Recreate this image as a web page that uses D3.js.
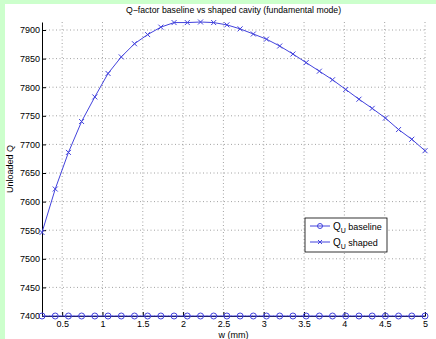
<!DOCTYPE html>
<html>
<head>
<meta charset="utf-8">
<script src="https://cdn.jsdelivr.net/npm/d3@7"></script>
<style>
  body { margin: 0; background: #ccffcc; }
  svg { display: block; font-family: "Liberation Sans", Arial, sans-serif; }
</style>
</head>
<body>
<div id="chart"></div>
<script>
// w (mm) sample points, 30 points from 0.25 to 5
const wValues = [0.25, 0.414, 0.578, 0.741, 0.905, 1.069, 1.233, 1.397, 1.560, 1.724,
                 1.888, 2.052, 2.216, 2.379, 2.543, 2.707, 2.871, 3.034, 3.198, 3.362,
                 3.526, 3.690, 3.853, 4.017, 4.181, 4.345, 4.509, 4.672, 4.836, 5.0];
const qBaseline = [7400, 7400, 7400, 7400, 7400, 7400, 7400, 7400, 7400, 7400,
                   7400, 7400, 7400, 7400, 7400, 7400, 7400, 7400, 7400, 7400,
                   7400, 7400, 7400, 7400, 7400, 7400, 7400, 7400, 7400, 7400];
const qShaped = [7546, 7622, 7686, 7740, 7783, 7824, 7853, 7876, 7892, 7905,
                 7913, 7913, 7914, 7913, 7909, 7902, 7893, 7884, 7872, 7858,
                 7843, 7828, 7813, 7796, 7779, 7763, 7746, 7726, 7709, 7689];
const xTicks = [0.5, 1, 1.5, 2, 2.5, 3, 3.5, 4, 4.5, 5];
const yTicks = [7400, 7450, 7500, 7550, 7600, 7650, 7700, 7750, 7800, 7850, 7900];

const width = 436, height = 339;
const plotLeft = 42, plotRight = 425, plotTop = 22, plotBottom = 316;
const lineColor = "#4343dd";

const svg = d3.select("#chart").append("svg")
    .attr("width", width)
    .attr("height", height);

// white panel over the green page
svg.append("rect")
    .attr("x", 5).attr("y", 4)
    .attr("width", width - 5).attr("height", height - 4)
    .attr("fill", "#fff");

const x = d3.scaleLinear().domain([0.25, 5]).range([plotLeft, plotRight]);
const y = d3.scaleLinear().domain([7400, 7914]).range([plotBottom, plotTop]);

// dotted grid
const grid = svg.append("g")
    .attr("stroke", "#8a8a8a")
    .attr("stroke-width", 0.8)
    .attr("stroke-dasharray", "1,2.5");
grid.selectAll(".gx").data(xTicks).enter().append("line")
    .attr("x1", d => x(d)).attr("x2", d => x(d))
    .attr("y1", plotTop).attr("y2", plotBottom);
grid.selectAll(".gy").data(yTicks).enter().append("line")
    .attr("x1", plotLeft).attr("x2", plotRight)
    .attr("y1", d => y(d)).attr("y2", d => y(d));

// axes, ticks inward
const xAxis = svg.append("g")
    .attr("transform", `translate(0,${plotBottom})`)
    .call(d3.axisBottom(x).tickValues(xTicks).tickSizeInner(-4).tickSizeOuter(0).tickPadding(5).tickFormat(d3.format("")));
const yAxis = svg.append("g")
    .attr("transform", `translate(${plotLeft},0)`)
    .call(d3.axisLeft(y).tickValues(yTicks).tickSizeInner(-4).tickSizeOuter(0).tickPadding(2).tickFormat(d3.format("d")));
[xAxis, yAxis].forEach(a => {
    a.select(".domain").attr("stroke", "#000");
    a.selectAll(".tick line").attr("stroke", "#000");
    a.selectAll("text").attr("font-size", 9).attr("fill", "#000")
        .attr("font-family", "Liberation Sans, Arial, sans-serif");
});

// series
const seriesLine = d3.line().x((d, i) => x(wValues[i])).y(d => y(d));
svg.append("path").datum(qBaseline)
    .attr("d", seriesLine).attr("fill", "none")
    .attr("stroke", lineColor).attr("stroke-width", 1);
svg.append("path").datum(qShaped)
    .attr("d", seriesLine).attr("fill", "none")
    .attr("stroke", lineColor).attr("stroke-width", 1);

svg.selectAll(".mo").data(qBaseline).enter().append("circle")
    .attr("cx", (d, i) => x(wValues[i])).attr("cy", d => y(d))
    .attr("r", 3).attr("fill", "none")
    .attr("stroke", lineColor).attr("stroke-width", 1);

function cross(g, cx, cy, s) {
    g.append("path")
        .attr("d", `M${cx - s},${cy - s}L${cx + s},${cy + s}M${cx - s},${cy + s}L${cx + s},${cy - s}`)
        .attr("stroke", lineColor).attr("stroke-width", 1).attr("fill", "none");
}
const marks = svg.append("g");
qShaped.forEach((d, i) => cross(marks, x(wValues[i]), y(d), 2.5));

// title and labels
svg.append("text")
    .attr("x", (plotLeft + plotRight) / 2).attr("y", 13)
    .attr("text-anchor", "middle").attr("font-size", 8.7)
    .text("Q\u2212factor baseline vs shaped cavity (fundamental mode)");
svg.append("text")
    .attr("x", (plotLeft + plotRight) / 2).attr("y", 337.5)
    .attr("text-anchor", "middle").attr("font-size", 9)
    .text("w (mm)");
svg.append("text")
    .attr("transform", `translate(13,${(plotTop + plotBottom) / 2}) rotate(-90)`)
    .attr("text-anchor", "middle").attr("font-size", 9)
    .text("Unloaded Q");

// legend
const legend = svg.append("g").attr("transform", "translate(305,218)");
legend.append("rect")
    .attr("width", 82).attr("height", 34)
    .attr("fill", "#fff").attr("stroke", "#000").attr("stroke-width", 0.8);
const entries = [{ name: "baseline", mark: "o" }, { name: "shaped", mark: "x" }];
entries.forEach((e, i) => {
    const ly = 8 + i * 16;
    legend.append("line")
        .attr("x1", 5).attr("x2", 25).attr("y1", ly).attr("y2", ly)
        .attr("stroke", lineColor).attr("stroke-width", 1);
    if (e.mark === "o") {
        legend.append("circle").attr("cx", 15).attr("cy", ly).attr("r", 2.5)
            .attr("fill", "none").attr("stroke", lineColor);
    } else {
        cross(legend, 15, ly, 2);
    }
    const t = legend.append("text").attr("x", 28).attr("y", ly + 3.5).attr("font-size", 10);
    t.append("tspan").text("Q");
    t.append("tspan").attr("font-size", 7).attr("dy", 3).text("U");
    t.append("tspan").attr("dy", -3).attr("font-size", 9).text(" " + e.name);
});
</script>
</body>
</html>
